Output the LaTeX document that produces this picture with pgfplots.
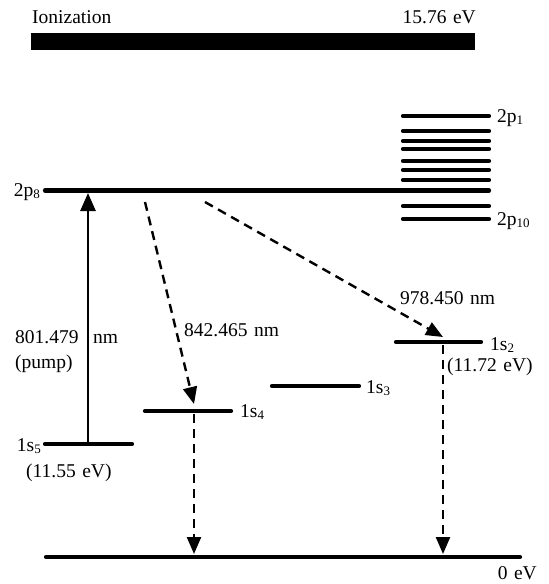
\documentclass[border=0pt]{standalone}
\usepackage{pgfplots}
\pgfplotsset{compat=1.18}
\usepackage{fontspec}
\setmainfont{Liberation Serif}
\usetikzlibrary{arrows.meta}
\newcommand\lbl{\fontsize{19.5}{22}\selectfont}
\newcommand\sub[1]{\raisebox{-0.3ex}{\fontsize{13}{14}\selectfont #1}}
\tikzset{lab/.style={font=\lbl, inner sep=0pt}}
\begin{document}
\begin{tikzpicture}
\begin{axis}[
  width=549pt, height=584pt, scale only axis,
  xmin=0, xmax=549, ymin=0, ymax=584, y dir=reverse,
  hide axis, clip=false,
  level/.style={black, line width=4.2pt, line cap=round},
  dashedarrow/.style={black, line width=2.4pt, dash pattern=on 9pt off 6pt, -{Triangle[length=17pt,width=14pt]}},
]
\addplot[draw=none] coordinates {(0,0) (549,584)};
% ionization bar
\addplot[black, line width=17pt] coordinates {(31,41) (475,41)};
% 2p levels
\addplot[level] coordinates {(403,116) (489,116)};
\addplot[level] coordinates {(403,131) (489,131)};
\addplot[level] coordinates {(403,141) (489,141)};
\addplot[level] coordinates {(403,149) (489,149)};
\addplot[level] coordinates {(403,161) (489,161)};
\addplot[level] coordinates {(403,170) (489,170)};
\addplot[level] coordinates {(403,180) (489,180)};
\addplot[level] coordinates {(45,190.5) (489,190.5)};
\addplot[level] coordinates {(403,206) (489,206)};
\addplot[level] coordinates {(403,219) (489,219)};
% 1s levels
\addplot[level] coordinates {(45,444) (132,444)};
\addplot[level] coordinates {(145,411) (231,411)};
\addplot[level] coordinates {(272,386) (359,386)};
\addplot[level] coordinates {(396,342) (481,342)};
% ground
\addplot[level] coordinates {(46,557) (520,557)};
% pump arrow
\addplot[black, line width=2.6pt, -{Triangle[length=18pt,width=15pt]}] coordinates {(88,444) (88,193)};
% dashed transitions
\addplot[dashedarrow] coordinates {(145,202) (194,404)};
\addplot[dashedarrow] coordinates {(205,202) (443,337)};
\addplot[dashedarrow] coordinates {(194,414) (194,554)};
\addplot[dashedarrow] coordinates {(443,345) (443,554)};
% labels
\node[lab, anchor=base west] at (axis cs:32,23) {Ionization};
\node[lab, anchor=base east] at (axis cs:476,23) {15.76\,\,eV};
\node[lab, anchor=base east] at (axis cs:40,196) {2p\sub{8}};
\node[lab, anchor=base west] at (axis cs:497,122) {2p\sub{1}};
\node[lab, anchor=base west] at (axis cs:497,225) {2p\sub{10}};
\node[lab, anchor=base west] at (axis cs:15,343) {801.479};
\node[lab, anchor=base west] at (axis cs:93,343) {nm};
\node[lab, anchor=base west] at (axis cs:15,368) {(pump)};
\node[lab, anchor=base west] at (axis cs:184,336) {842.465\,\,nm};
\node[lab, anchor=base west] at (axis cs:400,304) {978.450\,\,nm};
\node[lab, anchor=base east] at (axis cs:41,451) {1s\sub{5}};
\node[lab, anchor=base west] at (axis cs:26,477) {(11.55\,\,eV)};
\node[lab, anchor=base west] at (axis cs:240,417) {1s\sub{4}};
\node[lab, anchor=base west] at (axis cs:366,393) {1s\sub{3}};
\node[lab, anchor=base west] at (axis cs:490,350) {1s\sub{2}};
\node[lab, anchor=base west] at (axis cs:447,371) {(11.72\,\,eV)};
\node[lab, anchor=base east] at (axis cs:537,579) {0\,\,eV};
\end{axis}
\end{tikzpicture}
\end{document}
